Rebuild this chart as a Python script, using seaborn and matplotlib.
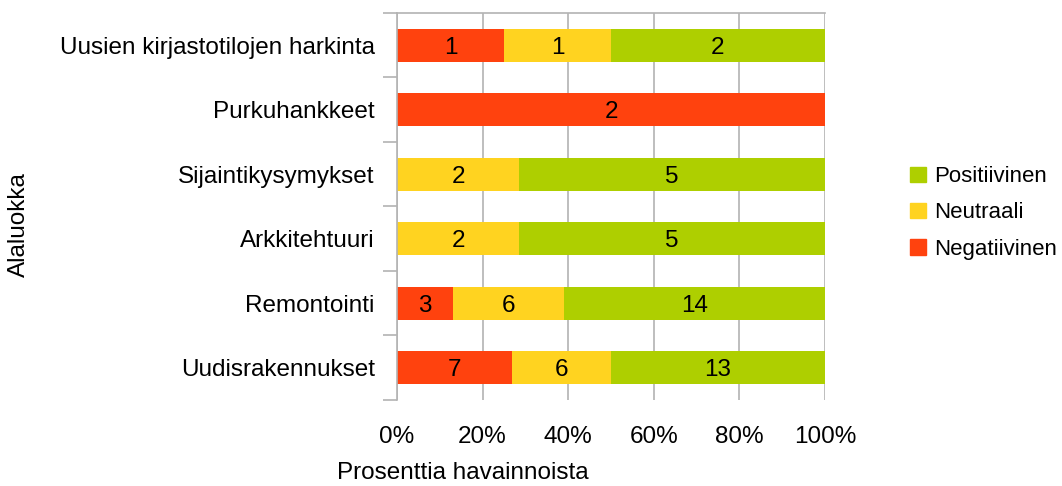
import numpy as np
import pandas as pd
import seaborn as sns
import matplotlib.pyplot as plt
from matplotlib.patches import Patch

categories = ['Uusien kirjastotilojen harkinta', 'Purkuhankkeet', 'Sijaintikysymykset',
              'Arkkitehtuuri', 'Remontointi', 'Uudisrakennukset']
negatiivinen = [1, 2, 0, 0, 3, 7]
neutraali = [1, 0, 2, 2, 6, 6]
positiivinen = [2, 0, 5, 5, 14, 13]
xticks = [0, 20, 40, 60, 80, 100]

red = '#FF420E'
yellow = '#FFD320'
green = '#AECF00'

sns.set_style('white')
plt.rcParams['font.family'] = ['Liberation Sans', 'DejaVu Sans']
plt.rcParams['text.color'] = 'black'
plt.rcParams['xtick.color'] = 'black'
plt.rcParams['ytick.color'] = 'black'
FS = 17.5

df = pd.DataFrame({'cat': categories, 'neg': negatiivinen, 'neu': neutraali, 'pos': positiivinen})
df['tot'] = df[['neg', 'neu', 'pos']].sum(axis=1)
df['p_neg'] = df['neg'] / df['tot'] * 100
df['p_neu'] = df['neu'] / df['tot'] * 100
df['p_pos'] = df['pos'] / df['tot'] * 100
df['c1'] = df['p_neg']
df['c2'] = df['p_neg'] + df['p_neu']
df['c3'] = df['c2'] + df['p_pos']

fig = plt.figure(figsize=(10.62, 4.86), dpi=100)
ax = fig.add_axes([397 / 1062, 1 - 400 / 486, 428 / 1062, 387 / 486])

ax.set_axisbelow(True)
ax.xaxis.grid(True, color='#b3b3b3', lw=1.2)
for col, c in [('c3', green), ('c2', yellow), ('c1', red)]:
    sns.barplot(data=df, y='cat', x=col, color=c, width=0.51, saturation=1, ax=ax,
                orient='h', linewidth=0, edgecolor='none')

# count labels in segment centres
for i, row in df.iterrows():
    starts = [0, row['c1'], row['c2']]
    widths = [row['p_neg'], row['p_neu'], row['p_pos']]
    counts = [row['neg'], row['neu'], row['pos']]
    for s, w, c in zip(starts, widths, counts):
        if c > 0:
            ax.text(s + w / 2, i, str(c), ha='center', va='center_baseline', fontsize=FS, color='black')

ax.set_xlim(0, 100)
ax.set_ylim(len(categories) - 0.5, -0.5)
ax.set_xticks(xticks)
ax.set_xticklabels([f'{t}%' for t in xticks], fontsize=FS)
ax.tick_params(axis='x', length=9, color='#b3b3b3', labelcolor='black', width=1.2, pad=10)
ax.set_yticks(range(len(categories)))
ax.set_yticklabels(categories, fontsize=FS)
ax.set_yticks(np.arange(len(categories) + 1) - 0.5, minor=True)
ax.tick_params(axis='y', which='major', length=0, pad=16, labelcolor='black')
ax.tick_params(axis='y', which='minor', length=10, color='#b3b3b3', width=1.2, left=True)
ax.set_xlabel('')
ax.set_ylabel('')

for s in ['bottom', 'right']:
    ax.spines[s].set_visible(False)
for s in ['left', 'top']:
    ax.spines[s].set_color('#b3b3b3')
    ax.spines[s].set_linewidth(1.2)

fig.text(337 / 1062, 1 - 462 / 486, 'Prosenttia havainnoista', fontsize=FS, ha='left', va='top')
fig.text(19 / 1062, 1 - 225 / 486, 'Alaluokka', fontsize=FS, rotation=90, ha='center', va='center')

handles = [Patch(color=green), Patch(color=yellow), Patch(color=red)]
fig.legend(handles, ['Positiivinen', 'Neutraali', 'Negatiivinen'], loc='center left',
           bbox_to_anchor=(899 / 1062, 1 - 213 / 486), frameon=False, fontsize=16,
           handlelength=0.7, handleheight=0.7, handletextpad=0.4, labelspacing=0.68,
           borderpad=0)

fig.savefig('out.png', dpi=100)
